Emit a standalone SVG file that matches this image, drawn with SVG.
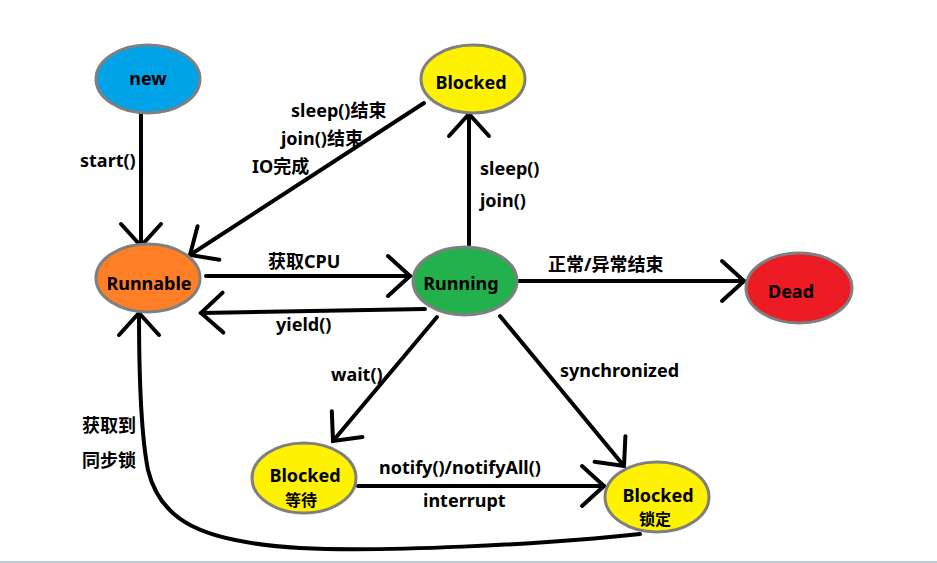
<svg xmlns="http://www.w3.org/2000/svg" width="937" height="563" viewBox="0 0 937 563">
<style>
.n{stroke:#7f7f7f;stroke-width:3}
.t{font-family:"Noto Sans","Noto Sans CJK SC",sans-serif;font-weight:bold;font-size:18px;fill:#000}
.s{font-size:16px}
.c{text-anchor:middle}
.e{fill:none;stroke:#000;stroke-width:4;stroke-linecap:round;marker-end:url(#a)}
</style>
<defs>
<marker id="a" markerUnits="userSpaceOnUse" viewBox="-26 -24 30 48" refX="0" refY="0" markerWidth="30" markerHeight="48" orient="auto">
<path d="M-22,-20 L0,0 L-22,20" fill="none" stroke="#000" stroke-width="4" stroke-linecap="round" stroke-linejoin="miter"/>
</marker>
</defs>
<rect width="937" height="563" fill="#fff"/>
<g id="edges">
<line class="e" x1="141" y1="114" x2="141" y2="246"/>
<line class="e" x1="424" y1="103" x2="190" y2="255"/>
<line class="e" x1="206" y1="276" x2="410" y2="276"/>
<line class="e" x1="425" y1="309" x2="201" y2="313"/>
<line class="e" x1="469" y1="245" x2="469" y2="114"/>
<line class="e" x1="519" y1="281" x2="744" y2="281"/>
<line class="e" x1="437" y1="317" x2="333" y2="441"/>
<line class="e" x1="500" y1="316" x2="624" y2="466"/>
<line class="e" x1="358" y1="486" x2="604" y2="486"/>
<path class="e" d="M640,534 C540,545 380,552 300,548 C200,542 160,520 148,470 C140,430 139,360 139,313"/>
<text class="t" x="80" y="167">start()</text>
<text class="t" x="291" y="117">sleep()结束</text>
<text class="t" x="281" y="145">join()结束</text>
<text class="t" x="252" y="173">IO完成</text>
<text class="t" x="268" y="268">获取CPU</text>
<text class="t" x="276" y="331">yield()</text>
<text class="t" x="480" y="175">sleep()</text>
<text class="t" x="480" y="207">join()</text>
<text class="t" x="548" y="271">正常/异常结束</text>
<text class="t" x="331" y="381">wait()</text>
<text class="t" x="560" y="377">synchronized</text>
<text class="t" x="379" y="474">notify()/notifyAll()</text>
<text class="t" x="423" y="507">interrupt</text>
<text class="t" x="82" y="432">获取到</text>
<text class="t" x="82" y="467">同步锁</text>
</g>
<g id="new"><ellipse class="n" cx="148" cy="79" rx="52" ry="34" fill="#00a2e8"/><text class="t c" x="148" y="85">new</text></g>
<g id="blocked"><ellipse class="n" cx="473" cy="79" rx="52" ry="34" fill="#fff200"/><text class="t c" x="471" y="89">Blocked</text></g>
<g id="runnable"><ellipse class="n" cx="148" cy="278" rx="52" ry="34" fill="#ff7f27"/><text class="t c" x="149" y="290">Runnable</text></g>
<g id="running"><ellipse class="n" cx="465" cy="281" rx="52" ry="34" fill="#22b14c"/><text class="t c" x="461" y="290">Running</text></g>
<g id="dead"><ellipse class="n" cx="799" cy="288" rx="53" ry="35" fill="#ed1c24"/><text class="t c" x="791" y="298">Dead</text></g>
<g id="blocked-wait"><ellipse class="n" cx="304" cy="478" rx="52" ry="35" fill="#fff200"/><text class="t c" x="305" y="482">Blocked</text><text class="t s c" x="301" y="506">等待</text></g>
<g id="blocked-lock"><ellipse class="n" cx="657" cy="497" rx="52" ry="35" fill="#fff200"/><text class="t c" x="658" y="502">Blocked</text><text class="t s c" x="655" y="525">锁定</text></g>
<rect x="0" y="561" width="937" height="2" fill="#c0cad6"/>
</svg>
